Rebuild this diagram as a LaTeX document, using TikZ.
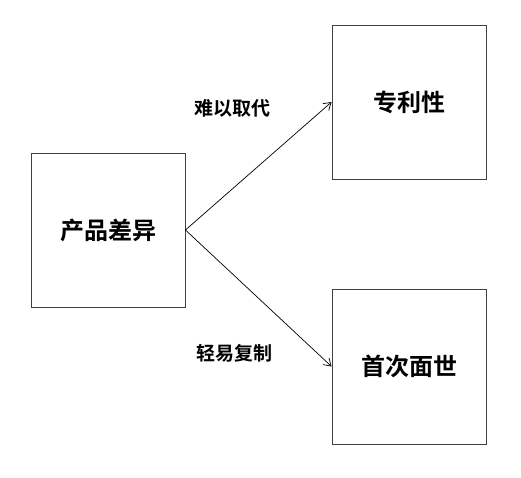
\documentclass[tikz,border=0pt]{standalone}
\usepackage{fontspec}
\newfontfamily\cjk{Noto Sans CJK SC}[BoldFont={* Bold}]
\usetikzlibrary{arrows.meta,shadows}
\begin{document}
\begin{tikzpicture}[x=1pt,y=-1pt,
  boxnode/.style={draw=black!75, line width=0.9pt, fill=white, minimum width=154pt, minimum height=154pt, inner sep=0pt,
    drop shadow={shadow xshift=1.2pt, shadow yshift=-1.2pt, fill=black!30, opacity=0.6}, font=\cjk\bfseries\fontsize{24}{28}\selectfont},
  lbl/.style={font=\cjk\bfseries\fontsize{19}{23}\selectfont, inner sep=0pt},
  conn/.style={draw=black, line width=0.7pt, -{Straight Barb[length=7pt,width=9pt,line width=0.7pt]}}]
\useasboundingbox (0,0) rectangle (521,477);
\node[boxnode] (a) at (108,230) {产品差异};
\node[boxnode, minimum height=154pt] (b) at (409,102) {专利性};
\node[boxnode, minimum height=155pt] (c) at (409,366.5) {首次面世};
\draw[conn] (a.east) -- (b.west);
\draw[conn] (a.east) -- (c.west);
\node[lbl] (l1) at (232,108) {难以取代};
\node[lbl] (l2) at (234,353) {轻易复制};
\end{tikzpicture}
\end{document}
